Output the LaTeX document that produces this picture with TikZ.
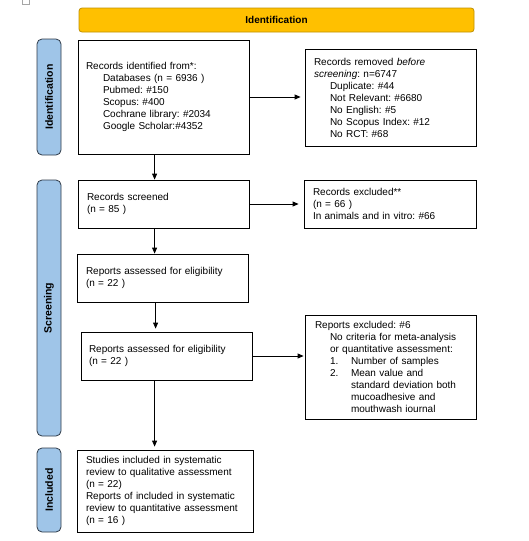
\documentclass[tikz,border=0pt]{standalone}
\usepackage{fontspec}
\setmainfont{Liberation Sans}
\usetikzlibrary{arrows.meta,calc}
\definecolor{hdrfill}{HTML}{FFC000}
\definecolor{hdrline}{HTML}{C09000}
\definecolor{sidefill}{HTML}{9FC5E8}
\definecolor{sideline}{HTML}{2E3A48}
\newcommand{\fsz}{\fontsize{10}{12}\selectfont\frenchspacing}
\newcommand{\ind}[1]{\hspace*{#1pt}}
\tikzset{
  box/.style={draw, line width=0.8pt, align=left, inner ysep=0pt, font=\fsz, anchor=center},
  header/.style={draw=hdrline, fill=hdrfill, line width=0.8pt, rounded corners=3pt, font=\fsz\bfseries, minimum width=395pt, minimum height=24pt, inner sep=0pt},
  sidebar/.style={draw=sideline, fill=sidefill, line width=0.8pt, rounded corners=5pt, rotate=90, font=\fontsize{10.5}{12}\selectfont\bfseries, minimum height=24pt, inner sep=0pt},
  arr/.style={line width=0.8pt, -{Triangle[length=6pt,width=5pt]}}
}
\begin{document}
\begin{tikzpicture}[x=1pt,y=-1pt]
\useasboundingbox (0,0) rectangle (528,541);
% small marker at top left
\draw[gray!70, line width=0.6pt] (22.5,-4) rectangle (29.5,4.5);

\node[header] (hdr) at (276.5,20) {Identification};

\node[sidebar, minimum width=116pt] (sid) at (49,97) {Identification};
\node[sidebar, minimum width=256pt] (sscr) at (49,308) {Screening};
\node[sidebar, minimum width=84pt] (sinc) at (49,490) {Included};

\node[box, inner xsep=8pt, text width=155pt, minimum height=114pt] (b1) at (163.5,97) {Records identified from*:\\
\ind{17}Databases (n = 6936 )\\
\ind{17}Pubmed: \#150\\
\ind{17}Scopus: \#400\\
\ind{17}Cochrane library: \#2034\\
\ind{17}Google Scholar:\#4352};

\node[box, inner xsep=9pt, text width=153pt, minimum height=97pt] (b2) at (390.5,97.5) {Records removed \textit{before}\\
\textit{screening}: n=6747\\
\ind{16}Duplicate: \#44\\
\ind{16}Not Relevant: \#6680\\
\ind{16}No English: \#5\\
\ind{16}No Scopus Index: \#12\\
\ind{16}No RCT: \#68};

\node[box, inner xsep=9pt, text width=153pt, minimum height=48pt] (b3) at (163.5,204) {Records screened\\(n = 85 )};

\node[box, inner xsep=9pt, text width=154pt, minimum height=48pt] (b4) at (390,204) {Records excluded**\\(n = 66 )\\In animals and in vitro: \#66};

\node[box, inner xsep=9pt, text width=153pt, minimum height=48pt] (b5) at (162.5,278) {Reports assessed for eligibility\\(n = 22 )};

\node[box, inner xsep=8pt, text width=155pt, minimum height=48pt] (b6) at (166.5,356) {Reports assessed for eligibility\\(n = 22 )};

\node[box, inner xsep=10pt, text width=151pt, minimum height=104pt] (b7) at (390.5,367) {Reports excluded: \#6\\
\ind{15}No criteria for meta-analysis\\
\ind{15}or quantitative assessment:\\
\ind{15}\makebox[21pt][l]{1.}Number of samples\\
\ind{15}\makebox[21pt][l]{2.}Mean value and\\
\ind{36}standard deviation both\\
\ind{36}mucoadhesive and\\
\ind{36}mouthwash iournal};

\node[box, inner xsep=9pt, text width=158pt, minimum height=82pt] (b8) at (165,491) {Studies included in systematic\\
review to qualitative assessment\\
(n = 22)\\
Reports of included in systematic\\
review to quantitative assessment\\
(n = 16 )};

% horizontal arrows
\draw[arr, shorten >=4pt] (b1.east) -- (b1.east -| b2.west);
\draw[arr, shorten >=5pt] (b3.east) -- (b3.east -| b4.west);
\draw[arr, shorten >=1pt] (b6.east) -- (b6.east -| b7.west);
% vertical arrows
\draw[arr] ([xshift=77pt]b1.south west) -- ([xshift=77pt]b1.south west |- b3.north);
\draw[arr] ([xshift=77pt]b3.south west) -- ([xshift=77pt]b3.south west |- b5.north);
\draw[arr, shorten >=3pt] ([xshift=79pt]b5.south west) -- ([xshift=79pt]b5.south west |- b6.north);
\draw[arr, shorten >=3pt] ([xshift=74pt]b6.south west) -- ([xshift=74pt]b6.south west |- b8.north);
\end{tikzpicture}
\end{document}
